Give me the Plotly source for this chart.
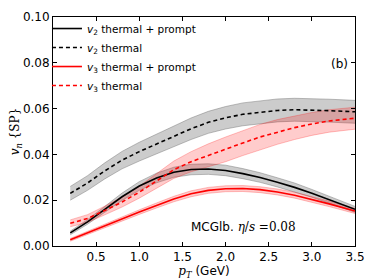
import plotly.graph_objects as go

pt = [0.2, 0.4, 0.6, 0.8, 1.0, 1.2, 1.4, 1.6, 1.8, 2.0, 2.2, 2.4, 2.6, 2.8, 3.0, 3.2, 3.5]

v2_tp = [0.0057, 0.0105, 0.0160, 0.0215, 0.0262, 0.0297, 0.0322, 0.0334, 0.0336, 0.0330, 0.0316, 0.0299, 0.0278, 0.0256, 0.0230, 0.0202, 0.0160]
v2_tp_err = [0.0008, 0.0010, 0.0013, 0.0016, 0.0019, 0.0021, 0.0022, 0.0023, 0.0023, 0.0023, 0.0022, 0.0021, 0.0020, 0.0019, 0.0017, 0.0015, 0.0013]

v2_th = [0.0230, 0.0275, 0.0328, 0.0375, 0.0412, 0.0446, 0.0480, 0.0512, 0.0540, 0.0560, 0.0575, 0.0585, 0.0592, 0.0595, 0.0594, 0.0591, 0.0586]
v2_th_err = [0.0030, 0.0032, 0.0035, 0.0038, 0.0041, 0.0043, 0.0045, 0.0047, 0.0048, 0.0049, 0.0050, 0.0050, 0.0050, 0.0050, 0.0050, 0.0050, 0.0050]

v3_tp = [0.0027, 0.0058, 0.0088, 0.0118, 0.0148, 0.0177, 0.0205, 0.0228, 0.0243, 0.0250, 0.0251, 0.0246, 0.0236, 0.0222, 0.0204, 0.0184, 0.0153]
v3_tp_err = [0.0006, 0.0007, 0.0008, 0.0009, 0.0010, 0.0011, 0.0012, 0.0013, 0.0013, 0.0013, 0.0013, 0.0013, 0.0013, 0.0013, 0.0012, 0.0012, 0.0011]

v3_th = [0.0099, 0.0120, 0.0155, 0.0192, 0.0235, 0.0285, 0.0333, 0.0368, 0.0396, 0.0422, 0.0450, 0.0476, 0.0498, 0.0517, 0.0533, 0.0546, 0.0558]
v3_th_err = [0.0015, 0.0017, 0.0019, 0.0022, 0.0026, 0.0032, 0.0038, 0.0044, 0.0050, 0.0054, 0.0055, 0.0055, 0.0054, 0.0052, 0.0050, 0.0049, 0.0048]

x_ticks = [0.5, 1.0, 1.5, 2.0, 2.5, 3.0, 3.5]
y_ticks = [0.00, 0.02, 0.04, 0.06, 0.08, 0.10]

GRAY_FILL = "rgba(128,128,128,0.40)"
GRAY_EDGE = "rgba(110,110,110,0.55)"
RED_FILL = "rgba(255,0,0,0.20)"
RED_EDGE = "rgba(255,0,0,0.30)"

fig = go.Figure()


def band(y, err, fill, edge):
    lo = [a - b for a, b in zip(y, err)]
    hi = [a + b for a, b in zip(y, err)]
    fig.add_trace(go.Scatter(x=pt, y=lo, mode="lines", line=dict(color=edge, width=0.8),
                             showlegend=False, hoverinfo="skip"))
    fig.add_trace(go.Scatter(x=pt, y=hi, mode="lines", line=dict(color=edge, width=0.8),
                             fill="tonexty", fillcolor=fill, showlegend=False, hoverinfo="skip"))


band(v2_th, v2_th_err, GRAY_FILL, GRAY_EDGE)
band(v2_tp, v2_tp_err, GRAY_FILL, GRAY_EDGE)
band(v3_th, v3_th_err, RED_FILL, RED_EDGE)
band(v3_tp, v3_tp_err, RED_FILL, RED_EDGE)

SUB = "<i>v</i><sub>%s</sub>"
fig.add_trace(go.Scatter(x=pt, y=v2_tp, mode="lines", line=dict(color="black", width=1.6),
                         name=(SUB % "2") + " thermal + prompt"))
fig.add_trace(go.Scatter(x=pt, y=v2_th, mode="lines", line=dict(color="black", width=1.6, dash="4px,3px"),
                         name=(SUB % "2") + " thermal"))
fig.add_trace(go.Scatter(x=pt, y=v3_tp, mode="lines", line=dict(color="red", width=1.6),
                         name=(SUB % "3") + " thermal + prompt"))
fig.add_trace(go.Scatter(x=pt, y=v3_th, mode="lines", line=dict(color="red", width=1.6, dash="4px,3px"),
                         name=(SUB % "3") + " thermal"))

axis_common = dict(showline=True, linecolor="black", linewidth=1, mirror="ticks",
                   ticks="inside", ticklen=4, tickcolor="black", tickwidth=1,
                   showgrid=False, zeroline=False, automargin=False,
                   ticklabeloverflow="allow",
                   tickfont=dict(family="DejaVu Sans", size=12, color="black"))

fig.update_layout(
    template="none",
    width=366, height=272,
    margin=dict(l=45, r=19, t=6, b=34),
    paper_bgcolor="white", plot_bgcolor="white",
    xaxis=dict(range=[0.0, 3.5], tickvals=x_ticks, ticktext=["%.1f" % v for v in x_ticks],
               title=dict(text="<i>p</i><sub><i>T</i></sub><span style='font-family:DejaVu Sans'> (GeV)</span>",
                          font=dict(family="DejaVu Serif", size=12, color="black"), standoff=1),
               **axis_common),
    yaxis=dict(range=[0.0, 0.10], tickvals=y_ticks, ticktext=["%.2f" % v for v in y_ticks],
               title=dict(text="<i>v</i><sub><i>n</i></sub> {SP}",
                          font=dict(family="DejaVu Serif", size=12, color="black"), standoff=6),
               **axis_common),
    legend=dict(x=-0.02, y=1.013, xanchor="left", yanchor="top", bgcolor="rgba(0,0,0,0)",
                font=dict(family="DejaVu Sans", size=10.5, color="black"),
                itemwidth=30, tracegroupgap=0, traceorder="normal"),
    showlegend=True,
    annotations=[
        dict(text="(b)", xref="paper", yref="paper", x=0.985, y=0.793, xanchor="right", yanchor="middle",
             showarrow=False, font=dict(family="DejaVu Sans", size=12, color="black")),
        dict(text="MCGlb. <span style='font-family:DejaVu Serif'><i>η</i>/<i>s</i> =0.08</span>",
             xref="paper", yref="paper", x=0.45, y=0.045, xanchor="left", yanchor="bottom",
             showarrow=False, font=dict(family="DejaVu Sans", size=12, color="black")),
    ],
)

fig.write_html("out.html")
